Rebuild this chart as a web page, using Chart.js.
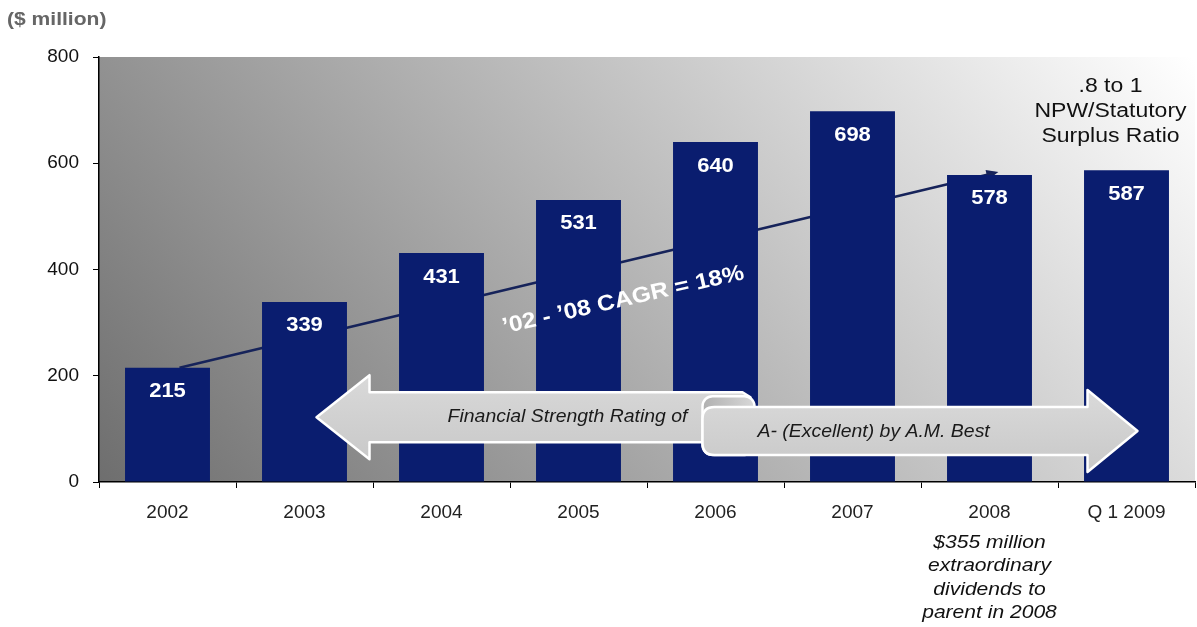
<!DOCTYPE html>
<html lang="en">
<head>
    <meta charset="UTF-8">
    <title>Statutory Surplus</title>
    <script src="https://cdn.jsdelivr.net/npm/chart.js@4.4.1/dist/chart.umd.min.js"></script>
    <style>
        html, body { margin: 0; padding: 0; background: #fff; }
        #chart { display: block; }
    </style>
</head>
<body>
    <canvas id="chart" width="1197" height="627"></canvas>
    <script>
        // Chart data
        const categories = ['2002', '2003', '2004', '2005', '2006', '2007', '2008', 'Q 1 2009'];
        const surplus = [215, 339, 431, 531, 640, 698, 578, 587];
        const yMax = 800;
        const yStep = 200;

        // Annotation texts
        const unitLabel = '($ million)';
        const cagrLabel = '\u201902 - \u201908 CAGR = 18%';
        const ratioNote = ['.8 to 1', 'NPW/Statutory', 'Surplus Ratio'];
        const dividendNote = ['$355 million', 'extraordinary', 'dividends to', 'parent in 2008'];
        const ratingLeft = 'Financial Strength Rating of';
        const ratingRight = 'A- (Excellent) by A.M. Best';

        const FONT = '"Liberation Sans", Arial, sans-serif';
        const BAR_COLOR = '#0a1d6f';
        const STRETCH = 1.15; // the original picture is a bit wider than tall

        // draw text squeezed/stretched horizontally
        function drawText(ctx, text, x, y, align, sx) {
            ctx.save();
            ctx.translate(x, y);
            ctx.scale(sx || STRETCH, 1);
            ctx.textAlign = align || 'center';
            ctx.fillText(text, 0, 0);
            ctx.restore();
        }

        function arrowPath(ctx, pts) {
            ctx.beginPath();
            ctx.moveTo(pts[0][0], pts[0][1]);
            for (let i = 1; i < pts.length; i++) ctx.lineTo(pts[i][0], pts[i][1]);
            ctx.closePath();
        }

        const decorations = {
            id: 'decorations',
            beforeDraw(chart) {
                const { ctx, chartArea: a } = chart;
                ctx.save();
                ctx.fillStyle = '#fff';
                ctx.fillRect(0, 0, chart.width, chart.height);
                // diagonal gray to white background of the plot area
                const g = ctx.createLinearGradient(a.left, a.bottom, a.left + 850, a.bottom - 714);
                g.addColorStop(0, '#6e6e6e');
                g.addColorStop(1, '#ffffff');
                ctx.fillStyle = g;
                ctx.fillRect(a.left, a.top, a.right - a.left, a.bottom - a.top);
                ctx.restore();
            },
            beforeDatasetsDraw(chart) {
                // trend line 2002 -> 2008, drawn behind the bars
                const { ctx } = chart;
                const x = chart.scales.x, y = chart.scales.y;
                const x0 = x.getPixelForValue(0) + 12, y0 = y.getPixelForValue(surplus[0]);
                const x1 = x.getPixelForValue(6) + 5, y1 = y.getPixelForValue(surplus[6]) - 2;
                ctx.save();
                ctx.strokeStyle = '#16235a';
                ctx.fillStyle = '#16235a';
                ctx.lineWidth = 2.5;
                ctx.beginPath();
                ctx.moveTo(x0, y0);
                ctx.lineTo(x1, y1);
                ctx.stroke();
                const ang = Math.atan2(y1 - y0, x1 - x0);
                ctx.translate(x1, y1);
                ctx.rotate(ang);
                ctx.beginPath();
                ctx.moveTo(4, 0);
                ctx.lineTo(-8, -5);
                ctx.lineTo(-8, 5);
                ctx.closePath();
                ctx.fill();
                ctx.restore();
            },
            afterDatasetsDraw(chart) {
                const { ctx } = chart;
                const x = chart.scales.x, y = chart.scales.y;
                const meta = chart.getDatasetMeta(0);

                // value labels inside the bars
                ctx.save();
                ctx.fillStyle = '#fff';
                ctx.font = 'bold 20px ' + FONT;
                ctx.textBaseline = 'middle';
                meta.data.forEach((bar, i) => {
                    drawText(ctx, String(surplus[i]), bar.x, bar.y + 24, 'center', 1.1);
                });
                ctx.restore();

                // CAGR text along the trend line
                ctx.save();
                ctx.fillStyle = '#fff';
                ctx.font = 'bold 22px ' + FONT;
                ctx.textBaseline = 'alphabetic';
                ctx.translate(x.getPixelForValue(3) + 46, y.getPixelForValue(331));
                ctx.rotate(-12.8 * Math.PI / 180);
                ctx.scale(1.12, 1);
                ctx.textAlign = 'center';
                ctx.fillText(cagrLabel, 0, 0);
                ctx.restore();

                // double headed ribbon arrow
                const lTip = x.getPixelForValue(1) + 12;
                const lCy = y.getPixelForValue(122);
                const lEnd = x.getPixelForValue(4) + 35;
                const rStart = x.getPixelForValue(4) - 13;
                const rTip = x.getPixelForValue(7) + 11;
                const rCy = y.getPixelForValue(96);

                ctx.save();
                ctx.lineJoin = 'round';
                ctx.strokeStyle = '#ffffff';
                ctx.lineWidth = 2.5;

                const fillL = ctx.createLinearGradient(0, lCy - 42, 0, lCy + 42);
                fillL.addColorStop(0, '#d9d9d9');
                fillL.addColorStop(1, '#c9c9c9');
                arrowPath(ctx, [
                    [lTip, lCy],
                    [lTip + 53, lCy - 42],
                    [lTip + 53, lCy - 25],
                    [lEnd - 8, lCy - 25],
                    [lEnd, lCy - 20],
                    [lEnd, lCy + 25],
                    [lTip + 53, lCy + 25],
                    [lTip + 53, lCy + 42]
                ]);
                ctx.fillStyle = fillL;
                ctx.fill();
                ctx.stroke();

                // curled part of the ribbon
                const curl = ctx.createLinearGradient(rStart, 0, rStart + 50, 0);
                curl.addColorStop(0, '#b0b0b0');
                curl.addColorStop(1, '#d6d6d6');
                ctx.beginPath();
                ctx.roundRect(rStart, lCy - 21, 52, rCy + 24 - (lCy - 21), 10);
                ctx.fillStyle = curl;
                ctx.fill();
                ctx.stroke();

                const fillR = ctx.createLinearGradient(0, rCy - 41, 0, rCy + 41);
                fillR.addColorStop(0, '#dadada');
                fillR.addColorStop(1, '#c8c8c8');
                ctx.beginPath();
                ctx.moveTo(rStart + 12, rCy - 24);
                ctx.lineTo(rTip - 50, rCy - 24);
                ctx.lineTo(rTip - 50, rCy - 41);
                ctx.lineTo(rTip, rCy);
                ctx.lineTo(rTip - 50, rCy + 41);
                ctx.lineTo(rTip - 50, rCy + 24);
                ctx.lineTo(rStart + 12, rCy + 24);
                ctx.quadraticCurveTo(rStart, rCy + 24, rStart, rCy + 12);
                ctx.lineTo(rStart, rCy - 12);
                ctx.quadraticCurveTo(rStart, rCy - 24, rStart + 12, rCy - 24);
                ctx.closePath();
                ctx.fillStyle = fillR;
                ctx.fill();
                ctx.stroke();

                ctx.fillStyle = '#1a1a1a';
                ctx.font = 'italic 18px ' + FONT;
                ctx.textBaseline = 'alphabetic';
                drawText(ctx, ratingLeft, rStart - 15, lCy + 5, 'right', 1.08);
                drawText(ctx, ratingRight, rStart + 55, rCy + 6, 'left', 1.08);
                ctx.restore();
            },
            afterDraw(chart) {
                const { ctx } = chart;
                const x = chart.scales.x;
                ctx.save();
                ctx.textBaseline = 'alphabetic';

                ctx.fillStyle = '#666';
                ctx.font = 'bold 18px ' + FONT;
                drawText(ctx, unitLabel, 7, 25, 'left', 1.17);

                ctx.fillStyle = '#111';
                ctx.font = '20px ' + FONT;
                ratioNote.forEach((t, i) => {
                    drawText(ctx, t, x.getPixelForValue(7) - 16, 92 + i * 25, 'center', 1.15);
                });

                ctx.font = 'italic 18px ' + FONT;
                dividendNote.forEach((t, i) => {
                    drawText(ctx, t, x.getPixelForValue(6), 548 + i * 23.3, 'center', 1.17);
                });
                ctx.restore();
            }
        };

        const chart = new Chart(document.getElementById('chart'), {
            type: 'bar',
            data: {
                labels: categories,
                datasets: [{
                    data: surplus,
                    backgroundColor: BAR_COLOR,
                    borderWidth: 0,
                    barPercentage: 0.62,
                    categoryPercentage: 1
                }]
            },
            options: {
                responsive: false,
                animation: false,
                devicePixelRatio: 1,
                layout: { padding: { top: 57, right: 2, left: 0, bottom: 0 } },
                plugins: {
                    legend: { display: false },
                    tooltip: { enabled: false }
                },
                scales: {
                    x: {
                        grid: { display: true, drawOnChartArea: false, drawTicks: true, tickLength: 6, color: '#000', offset: true },
                        border: { display: true, color: '#000', width: 1.5 },
                        ticks: { color: '#222', padding: 13, font: { family: FONT, size: 19 } },
                        afterFit(s) { s.height = 145; }
                    },
                    y: {
                        min: 0,
                        max: yMax,
                        grid: { display: true, drawOnChartArea: false, drawTicks: true, tickLength: 6, color: '#000' },
                        border: { display: true, color: '#000', width: 1.5 },
                        ticks: { stepSize: yStep, color: '#111', padding: 14, font: { family: FONT, size: 19 } },
                        afterFit(s) { s.width = 99; }
                    }
                }
            },
            plugins: [decorations]
        });
    </script>
</body>
</html>
